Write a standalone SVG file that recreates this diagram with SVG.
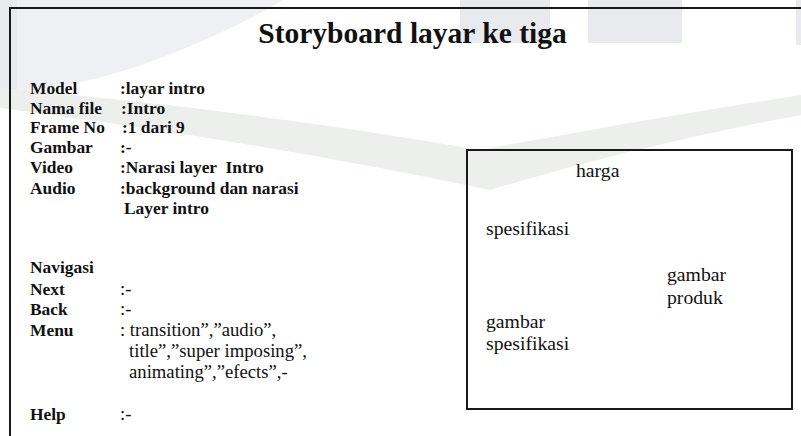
<svg xmlns="http://www.w3.org/2000/svg" width="801" height="436" viewBox="0 0 801 436">
  <style>
    .b { font-family: "Liberation Serif", "Times New Roman", serif; font-weight: bold; font-size: 17.4px; fill: #111; white-space: pre; }
    .r { font-family: "Liberation Serif", "Times New Roman", serif; font-size: 18.7px; fill: #111; white-space: pre; }
    .rb { font-family: "Liberation Serif", "Times New Roman", serif; font-size: 19.7px; fill: #111; white-space: pre; }
    .title { font-family: "Liberation Serif", "Times New Roman", serif; font-weight: bold; font-size: 29.5px; fill: #111; }
    .frame { fill: none; stroke: #1a1a1a; stroke-width: 2; }
    .wm { fill: #e6e7ec; }
    .wm2 { fill: #ebedea; }
  </style>
  <rect width="801" height="436" fill="#ffffff"/>
  <g id="watermark" opacity="0.85">
    <rect class="wm" x="0" y="0" width="17" height="100"/>
    <path class="wm" d="M17,0 L283,0 Q230,32 150,62 Q90,84 17,92 Z" opacity="0.7"/>
    <rect class="wm" x="460" y="0" width="90" height="43"/>
    <rect class="wm" x="588" y="0" width="94" height="43"/>
    <rect class="wm" x="796" y="0" width="5" height="45"/>
    <path class="wm2" d="M0,88 Q250,110 480,150 Q640,120 801,95 L801,115 Q640,145 490,190 Q250,140 0,108 Z"/>
  </g>
  <g id="frame">
    <path class="frame" d="M10,436 L10,8 L801,8"/>
  </g>
  <g id="title">
    <text class="title" x="412.5" y="43" text-anchor="middle">Storyboard layar ke tiga</text>
  </g>
  <g id="info">
    <text class="b" x="30" y="94">Model</text>
    <text class="b" x="120" y="94">:layar intro</text>
    <text class="b" x="30" y="114">Nama file</text>
    <text class="b" x="121" y="114">:Intro</text>
    <text class="b" x="30" y="133">Frame No</text>
    <text class="b" x="122" y="133">:1 dari 9</text>
    <text class="b" x="30" y="153">Gambar</text>
    <text class="b" x="120" y="153">:-</text>
    <text class="b" x="30" y="173">Video</text>
    <text class="b" x="120" y="173">:Narasi layer  Intro</text>
    <text class="b" x="30" y="194">Audio</text>
    <text class="b" x="120" y="194">:background dan narasi</text>
    <text class="b" x="124" y="214">Layer intro</text>
  </g>
  <g id="navigasi">
    <text class="b" x="30" y="273">Navigasi</text>
    <text class="b" x="30" y="295">Next</text>
    <text class="r" x="120" y="295">:-</text>
    <text class="b" x="30" y="315">Back</text>
    <text class="r" x="120" y="315">:-</text>
    <text class="b" x="30" y="336">Menu</text>
    <text class="r" x="120" y="336">: transition”,”audio”,</text>
    <text class="r" x="129" y="357">title”,”super imposing”,</text>
    <text class="r" x="129" y="378">animating”,”efects”,-</text>
    <text class="b" x="30" y="420">Help</text>
    <text class="r" x="120" y="420">:-</text>
  </g>
  <g id="screen">
    <rect class="frame" x="467" y="150" width="325" height="259"/>
    <text class="rb" x="576" y="177">harga</text>
    <text class="rb" x="486" y="235">spesifikasi</text>
    <text class="rb" x="667" y="281">gambar</text>
    <text class="rb" x="667" y="304">produk</text>
    <text class="rb" x="486" y="328">gambar</text>
    <text class="rb" x="486" y="350">spesifikasi</text>
  </g>
</svg>
